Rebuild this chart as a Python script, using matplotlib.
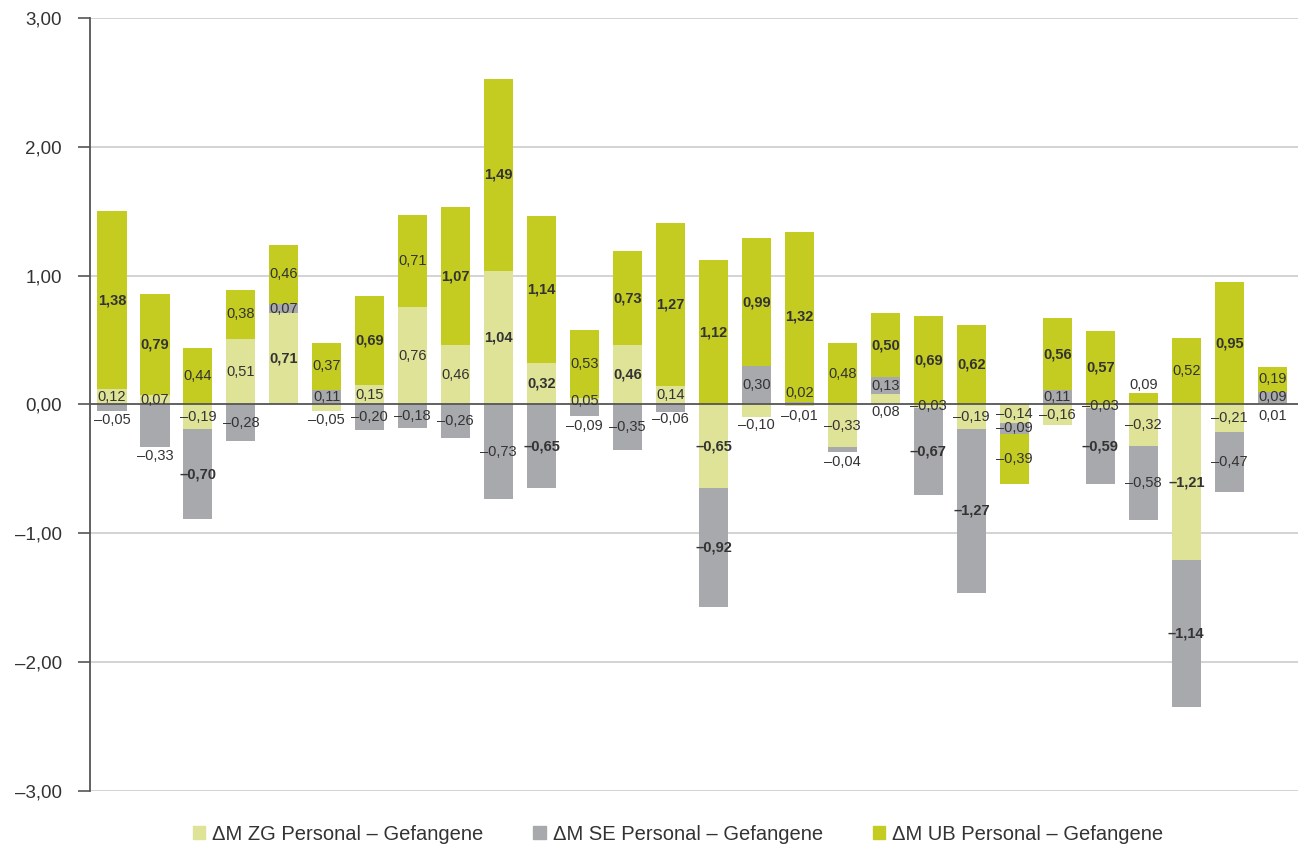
import matplotlib
matplotlib.use("Agg")
import matplotlib.pyplot as plt
import numpy as np
from matplotlib.patches import Patch

plt.rcParams['font.family'] = ['Liberation Sans', 'DejaVu Sans']

# ---- data ----
zg = [0.12, 0.07, -0.19, 0.51, 0.71, -0.05, 0.15, 0.76, 0.46, 1.04, 0.32, 0.05, 0.46, 0.14,
      -0.65, -0.10, -0.01, -0.33, 0.08, -0.03, -0.19, -0.14, -0.16, -0.03, -0.32, -1.21, -0.21, 0.01]
se = [-0.05, -0.33, -0.70, -0.28, 0.07, 0.11, -0.20, -0.18, -0.26, -0.73, -0.65, -0.09, -0.35, -0.06,
      -0.92, 0.30, 0.02, -0.04, 0.13, -0.67, -1.27, -0.09, 0.11, -0.59, -0.58, -1.14, -0.47, 0.09]
ub = [1.38, 0.79, 0.44, 0.38, 0.46, 0.37, 0.69, 0.71, 1.07, 1.49, 1.14, 0.53, 0.73, 1.27,
      1.12, 0.99, 1.32, 0.48, 0.50, 0.69, 0.62, -0.39, 0.56, 0.57, 0.09, 0.52, 0.95, 0.19]
# significance (bold labels), indices of bars
zg_bold = [4, 9, 10, 12, 14, 25]
se_bold = [2, 10, 14, 19, 20, 23, 25]
ub_bold = [0, 1, 6, 8, 9, 10, 12, 13, 14, 15, 16, 18, 19, 20, 22, 23, 26]
series_names = ["\u0394M ZG Personal \u2013 Gefangene",
                "\u0394M SE Personal \u2013 Gefangene",
                "\u0394M UB Personal \u2013 Gefangene"]
yticks = [-3, -2, -1, 0, 1, 2, 3]

# ---- style ----
colors = ["#dfe397", "#a8a9ad", "#c4cc21"]
text_col = "#333333"
# label offsets in pixels for labels moved out of tiny segments: (series, bar): dy
label_offsets = {(1, 0): -12, (1, 1): -30, (0, 5): -12, (0, 16): -11, (1, 17): -12,
                 (0, 18): -13, (2, 24): 14, (0, 27): -12, (1, 13): -11, (1, 11): -16,
                 (0, 15): -14, (1, 16): 10}

W, H = 1298, 848
fig = plt.figure(figsize=(W / 100, H / 100), dpi=100)
ax = fig.add_axes([90 / W, 1 - 791 / H, (W - 90) / W, (791 - 18) / H])

n = len(ub)
x = np.arange(n)
pos_base = np.zeros(n)
neg_base = np.zeros(n)
width = 0.68
all_series = [zg, se, ub]
bolds = [zg_bold, se_bold, ub_bold]


def fmt(v):
    s = f"{abs(v):.2f}".replace('.', ',')
    return ("\u2013" + s) if v < 0 else s


for si, vals in enumerate(all_series):
    vals = np.array(vals)
    bottoms = np.where(vals >= 0, pos_base, neg_base)
    ax.bar(x, vals, width, bottom=bottoms, color=colors[si], zorder=2, linewidth=0)
    for i, v in enumerate(vals):
        yc = bottoms[i] + v / 2
        dy = label_offsets.get((si, i), 0)
        ax.annotate(fmt(v), (x[i], yc), xytext=(0, dy * 0.72), textcoords='offset points',
                    ha='center', va='center', fontsize=10.5, color=text_col,
                    fontweight='bold' if i in bolds[si] else 'normal', zorder=4)
    pos_base = pos_base + np.where(vals >= 0, vals, 0)
    neg_base = neg_base + np.where(vals < 0, vals, 0)

ax.set_xlim(-0.51, n - 1 + 0.6)
ax.set_ylim(-3, 3)
ax.set_yticks(yticks)
ax.set_yticklabels([fmt(t) if t != 0 else "0,00" for t in yticks], fontsize=13.5, color=text_col)
ax.tick_params(axis='y', length=8.6, width=1.2, color="#555555", pad=11.5, direction='out')
ax.set_xticks([])
for t in yticks:
    if t != 0:
        ax.axhline(t, color="#cccccc", lw=1.2, zorder=1)
ax.axhline(0, color="#555555", lw=1.3, zorder=3)
for s in ['top', 'right', 'bottom']:
    ax.spines[s].set_visible(False)
ax.spines['left'].set_color("#555555")
ax.spines['left'].set_linewidth(1.3)

handles = [Patch(color=c, label=l) for c, l in zip(colors, series_names)]
fig.legend(handles=handles, loc='center', bbox_to_anchor=(678 / W, 1 - 834 / H), ncol=3,
           frameon=False, fontsize=14.5, handlelength=0.6, handleheight=0.6,
           handletextpad=0.35, columnspacing=2.5, labelcolor=text_col)

fig.savefig("out.png", dpi=100)
